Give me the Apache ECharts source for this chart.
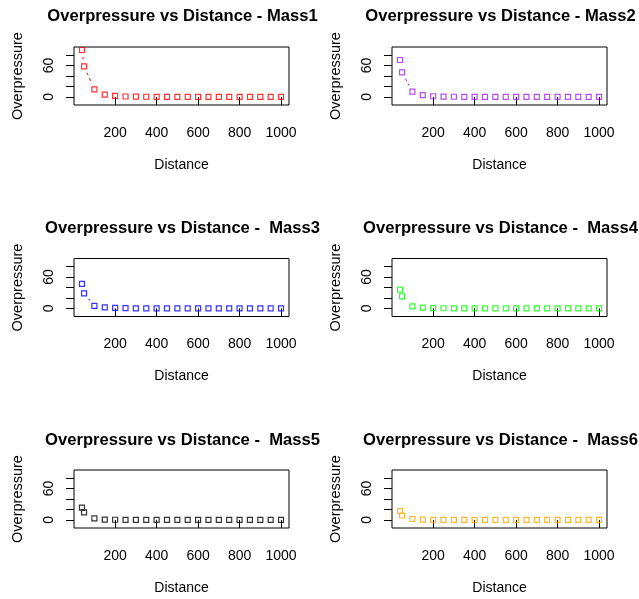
<!DOCTYPE html>
<html>
<head>
<meta charset="utf-8">
<script src="https://cdn.jsdelivr.net/npm/echarts@6/dist/echarts.min.js"></script>
<style>
html, body { margin: 0; padding: 0; background: #fff; }
#main { width: 639px; height: 599px; }
</style>
</head>
<body>
<div id="main"></div>
<script>
// distances (x) shared by every panel
var distance = [40, 50, 100, 150, 200, 250, 300, 350, 400, 450, 500, 550, 600, 650, 700, 750, 800, 850, 900, 950, 1000];

// overpressure
var mass1 = [89.6, 58.5, 14.4, 4.5, 1.9, 0.8, 0.4, 0.3, 0.2, 0.2, 0.1, 0.1, 0.1, 0.1, 0.1, 0.1, 0.1, 0.1, 0.1, 0.1, 0.1];
var mass2 = [70.5, 47, 10, 3.3, 1.3, 0.6, 0.3, 0.2, 0.1, 0.1, 0.1, 0.1, 0.1, 0.1, 0.1, 0.1, 0.1, 0.1, 0.1, 0.1, 0.1];
var mass3 = [47, 28.6, 5, 2.2, 0.9, 0.4, 0.2, 0.1, 0.1, 0.1, 0.1, 0.1, 0.1, 0.1, 0.1, 0.1, 0.1, 0.1, 0.1, 0.1, 0.1];
var mass4 = [35.8, 23, 3.8, 1.5, 0.7, 0.3, 0.2, 0.1, 0.1, 0.1, 0.1, 0.1, 0.1, 0.1, 0.1, 0.1, 0.1, 0.1, 0.1, 0.1, 0.1];
var mass5 = [23.3, 14.5, 3, 0.6, 0.3, 0.2, 0.1, 0.1, 0.1, 0.1, 0.1, 0.1, 0.1, 0.1, 0.1, 0.1, 0.1, 0.1, 0.1, 0.1, 0.1];
var mass6 = [17, 8.5, 1.8, 0.4, 0.2, 0.1, 0.1, 0.1, 0.1, 0.1, 0.1, 0.1, 0.1, 0.1, 0.1, 0.1, 0.1, 0.1, 0.1, 0.1, 0.1];

var masses = [mass1, mass2, mass3, mass4, mass5, mass6];
var titles = [
    'Overpressure vs Distance - Mass1',
    'Overpressure vs Distance - Mass2',
    'Overpressure vs Distance -  Mass3',
    'Overpressure vs Distance -  Mass4',
    'Overpressure vs Distance -  Mass5',
    'Overpressure vs Distance -  Mass6'
];
var colors = ['#ff0000', '#a020f0', '#0000ff', '#00ff00', '#000000', '#ffa500'];

var xTicks = [200, 400, 600, 800, 1000];
var yTicks = [0, 20, 40, 60, 80];
var yLabels = [0, 60];

var font = "'Liberation Sans', Arial, sans-serif";
var colLeft = [74, 392];
var rowTop = [47, 258.5, 470];
var titleTop = [3, 215, 426.5];
var plotW = 215, plotH = 58;
var gap = 7; // R type="b" leaves a gap round each point

var chart = echarts.init(document.getElementById('main'));

var title = [], grid = [], xAxis = [], yAxis = [], series = [];

masses.forEach(function (m, i) {
    var col = i % 2, row = Math.floor(i / 2);
    var left = colLeft[col], top = rowTop[row];

    title.push({
        text: titles[i],
        left: left + plotW / 2 - 4,
        top: titleTop[row],
        textAlign: 'center',
        textStyle: { fontFamily: font, fontSize: 16.6, fontWeight: 'bold', color: '#000' }
    });

    grid.push({
        left: left, top: top, width: plotW, height: plotH,
        show: true, borderColor: '#000', borderWidth: 1
    });

    xAxis.push({
        type: 'value', gridIndex: i, min: 1.6, max: 1038.4,
        name: 'Distance', nameLocation: 'middle', nameGap: 53,
        nameTextStyle: { fontFamily: font, fontSize: 14, color: '#000' },
        axisLine: { show: false },
        axisTick: { show: true, customValues: xTicks, length: 8, lineStyle: { color: '#000' } },
        axisLabel: {
            customValues: xTicks, fontFamily: font, fontSize: 14, color: '#000', margin: 21,
            formatter: function (v) { return String(v); }
        },
        splitLine: { show: false }
    });

    yAxis.push({
        type: 'value', gridIndex: i, min: -15.4, max: 95.3,
        name: 'Overpressure', nameLocation: 'middle', nameGap: 49,
        nameTextStyle: { fontFamily: font, fontSize: 14.5, color: '#000' },
        axisLine: { show: false },
        axisTick: { show: true, customValues: yTicks, length: 8, lineStyle: { color: '#000' } },
        axisLabel: {
            customValues: yLabels, rotate: 90, fontFamily: font, fontSize: 14, color: '#000', margin: 18,
            formatter: function (v) { return String(v); }
        },
        splitLine: { show: false }
    });

    // dashed segments between neighbouring points
    var segs = [];
    for (var k = 0; k < distance.length - 1; k++) {
        segs.push([distance[k], m[k], distance[k + 1], m[k + 1]]);
    }
    series.push({
        type: 'custom', xAxisIndex: i, yAxisIndex: i,
        data: segs,
        encode: { x: [0, 2], y: [1, 3] },
        silent: true,
        renderItem: (function (c) {
            return function (params, api) {
                var p0 = api.coord([api.value(0), api.value(1)]);
                var p1 = api.coord([api.value(2), api.value(3)]);
                var dx = p1[0] - p0[0], dy = p1[1] - p0[1];
                var len = Math.sqrt(dx * dx + dy * dy);
                if (len <= 2 * gap + 1) return { type: 'group', children: [] };
                var ux = dx / len, uy = dy / len;
                return {
                    type: 'line',
                    shape: {
                        x1: p0[0] + ux * gap, y1: p0[1] + uy * gap,
                        x2: p1[0] - ux * gap, y2: p1[1] - uy * gap
                    },
                    style: { stroke: c, lineWidth: 1, lineDash: [3, 3] }
                };
            };
        })(colors[i])
    });

    series.push({
        type: 'scatter', xAxisIndex: i, yAxisIndex: i,
        data: distance.map(function (d, k) { return [d, m[k]]; }),
        symbol: 'rect', symbolSize: 5,
        itemStyle: { color: 'rgba(0,0,0,0)', borderColor: colors[i], borderWidth: 1.2 }
    });
});

chart.setOption({
    animation: false,
    backgroundColor: '#fff',
    title: title,
    grid: grid,
    xAxis: xAxis,
    yAxis: yAxis,
    series: series
});
</script>
</body>
</html>
